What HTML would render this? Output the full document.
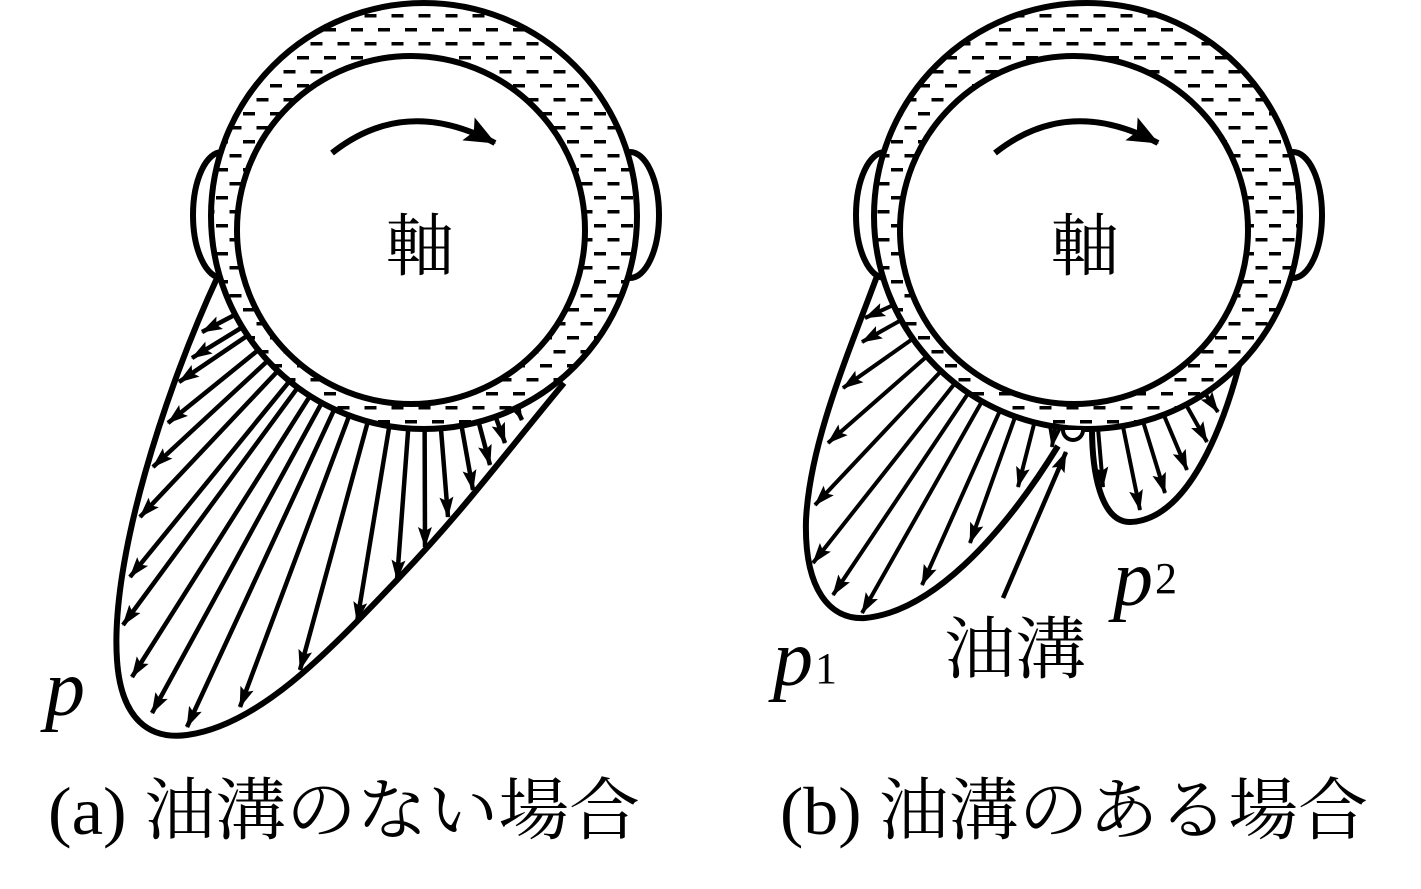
<!DOCTYPE html>
<html><head><meta charset="utf-8"><style>
html,body{margin:0;padding:0;background:#fff;}
svg{display:block;}
text{font-family:"Liberation Serif","Noto Serif CJK JP","Noto Serif CJK SC",serif;fill:#000;}
</style></head><body>
<svg width="1421" height="889" viewBox="0 0 1421 889" xmlns="http://www.w3.org/2000/svg">
<defs>
<marker id="ah" markerUnits="userSpaceOnUse" markerWidth="22" markerHeight="16" refX="20" refY="8" orient="auto">
<path d="M0,1 L21,8 L0,15 L4,8 z" fill="#000"/></marker>
<marker id="ah2" markerUnits="userSpaceOnUse" markerWidth="32" markerHeight="26" refX="30" refY="13" orient="auto">
<path d="M0,0 L31,13 L0,26 L6,13 z" fill="#000"/></marker>
<pattern id="dash" patternUnits="userSpaceOnUse" width="27" height="28">
<rect x="0" y="0" width="12" height="3.5" fill="#000"/>
<rect x="13.5" y="14" width="12" height="3.5" fill="#000"/>
</pattern>
</defs>

<!-- ===== LEFT (a) ===== -->
<g stroke="#000" stroke-width="4.5" marker-end="url(#ah)">
<line x1="424" y1="216" x2="202" y2="332"/>
<line x1="424" y1="216" x2="192" y2="358"/>
<line x1="424" y1="216" x2="179" y2="382"/>
<line x1="424" y1="216" x2="168" y2="423"/>
<line x1="424" y1="216" x2="153" y2="467"/>
<line x1="424" y1="216" x2="140" y2="517"/>
<line x1="424" y1="216" x2="130" y2="577"/>
<line x1="424" y1="216" x2="123" y2="625"/>
<line x1="424" y1="216" x2="132" y2="677"/>
<line x1="424" y1="216" x2="152" y2="713"/>
<line x1="424" y1="216" x2="187" y2="727"/>
<line x1="424" y1="216" x2="240" y2="707"/>
<line x1="424" y1="216" x2="300" y2="670"/>
<line x1="424" y1="216" x2="357" y2="622"/>
<line x1="424" y1="216" x2="397" y2="580"/>
<line x1="424" y1="216" x2="425" y2="547"/>
<line x1="424" y1="216" x2="448" y2="517"/>
<line x1="424" y1="216" x2="473" y2="490"/>
<line x1="424" y1="216" x2="490" y2="465"/>
<line x1="424" y1="216" x2="505" y2="443"/>
<line x1="424" y1="216" x2="522" y2="420"/>
</g>
<path d="M218,276 C165,390 110,560 117,660 C121,720 150,740 187,735 C260,725 330,650 397,580 S500,460 564,383" fill="none" stroke="#000" stroke-width="6"/>
<ellipse cx="222" cy="215" rx="29" ry="63" fill="#fff" stroke="#000" stroke-width="6"/>
<ellipse cx="630" cy="215" rx="29" ry="63" fill="#fff" stroke="#000" stroke-width="6"/>
<circle cx="424" cy="216" r="213" fill="#fff"/>
<circle cx="424" cy="216" r="213" fill="url(#dash)" stroke="#000" stroke-width="6"/>
<circle cx="411" cy="230" r="174" fill="#fff" stroke="#000" stroke-width="6"/>
<path d="M332,153 Q405,95 495,143" fill="none" stroke="#000" stroke-width="6" marker-end="url(#ah2)"/>
<text x="420" y="270" font-size="68" text-anchor="middle">軸</text>
<text x="45" y="715" font-size="80" font-style="italic">p</text>
<text x="48" y="834" font-size="68" textLength="592" lengthAdjust="spacingAndGlyphs">(a) 油溝のない場合</text>

<!-- ===== RIGHT (b) ===== -->
<g stroke="#000" stroke-width="4" marker-end="url(#ah)">
<line x1="1087" y1="216" x2="865" y2="318"/>
<line x1="1087" y1="216" x2="862" y2="342"/>
<line x1="1087" y1="216" x2="843" y2="388"/>
<line x1="1087" y1="216" x2="828" y2="443"/>
<line x1="1087" y1="216" x2="815" y2="505"/>
<line x1="1087" y1="216" x2="813" y2="563"/>
<line x1="1087" y1="216" x2="833" y2="595"/>
<line x1="1087" y1="216" x2="862" y2="613"/>
<line x1="1087" y1="216" x2="922" y2="585"/>
<line x1="1087" y1="216" x2="970" y2="543"/>
<line x1="1087" y1="216" x2="1018" y2="487"/>
<line x1="1087" y1="216" x2="1052" y2="447"/>
<line x1="1080" y1="216" x2="1103" y2="487"/>
<line x1="1080" y1="216" x2="1140" y2="510"/>
<line x1="1080" y1="216" x2="1165" y2="493"/>
<line x1="1080" y1="216" x2="1187" y2="470"/>
<line x1="1080" y1="216" x2="1207" y2="442"/>
<line x1="1080" y1="216" x2="1218" y2="412"/>
</g>
<path d="M880,268 C850,350 810,440 806,520 C804,590 830,620 865,618 C930,612 1000,540 1058,446" fill="none" stroke="#000" stroke-width="6"/>
<path d="M1092,428 C1092,470 1100,522 1130,522 C1190,520 1225,420 1240,362" fill="none" stroke="#000" stroke-width="6"/>
<ellipse cx="885" cy="215" rx="29" ry="63" fill="#fff" stroke="#000" stroke-width="6"/>
<ellipse cx="1293" cy="215" rx="29" ry="63" fill="#fff" stroke="#000" stroke-width="6"/>
<circle cx="1087" cy="216" r="213" fill="#fff"/>
<circle cx="1087" cy="216" r="213" fill="url(#dash)" stroke="#000" stroke-width="6"/>
<circle cx="1074" cy="230" r="174" fill="#fff" stroke="#000" stroke-width="6"/>
<path d="M1063,430 A10,10 0 0 0 1083,430" fill="#fff" stroke="#000" stroke-width="4"/>
<path d="M995,153 Q1068,95 1158,143" fill="none" stroke="#000" stroke-width="6" marker-end="url(#ah2)"/>
<text x="1085" y="270" font-size="68" text-anchor="middle">軸</text>
<line x1="1003" y1="598" x2="1066" y2="452" stroke="#000" stroke-width="4.5" marker-end="url(#ah)"/>
<text x="773" y="685" font-size="80" font-style="italic">p</text>
<text x="815" y="683" font-size="44">1</text>
<text x="1113" y="605" font-size="80" font-style="italic">p</text>
<text x="1155" y="593" font-size="44">2</text>
<text x="944" y="673" font-size="68" textLength="142" lengthAdjust="spacingAndGlyphs">油溝</text>
<text x="780" y="834" font-size="68" textLength="588" lengthAdjust="spacingAndGlyphs">(b) 油溝のある場合</text>
</svg>
</body></html>
